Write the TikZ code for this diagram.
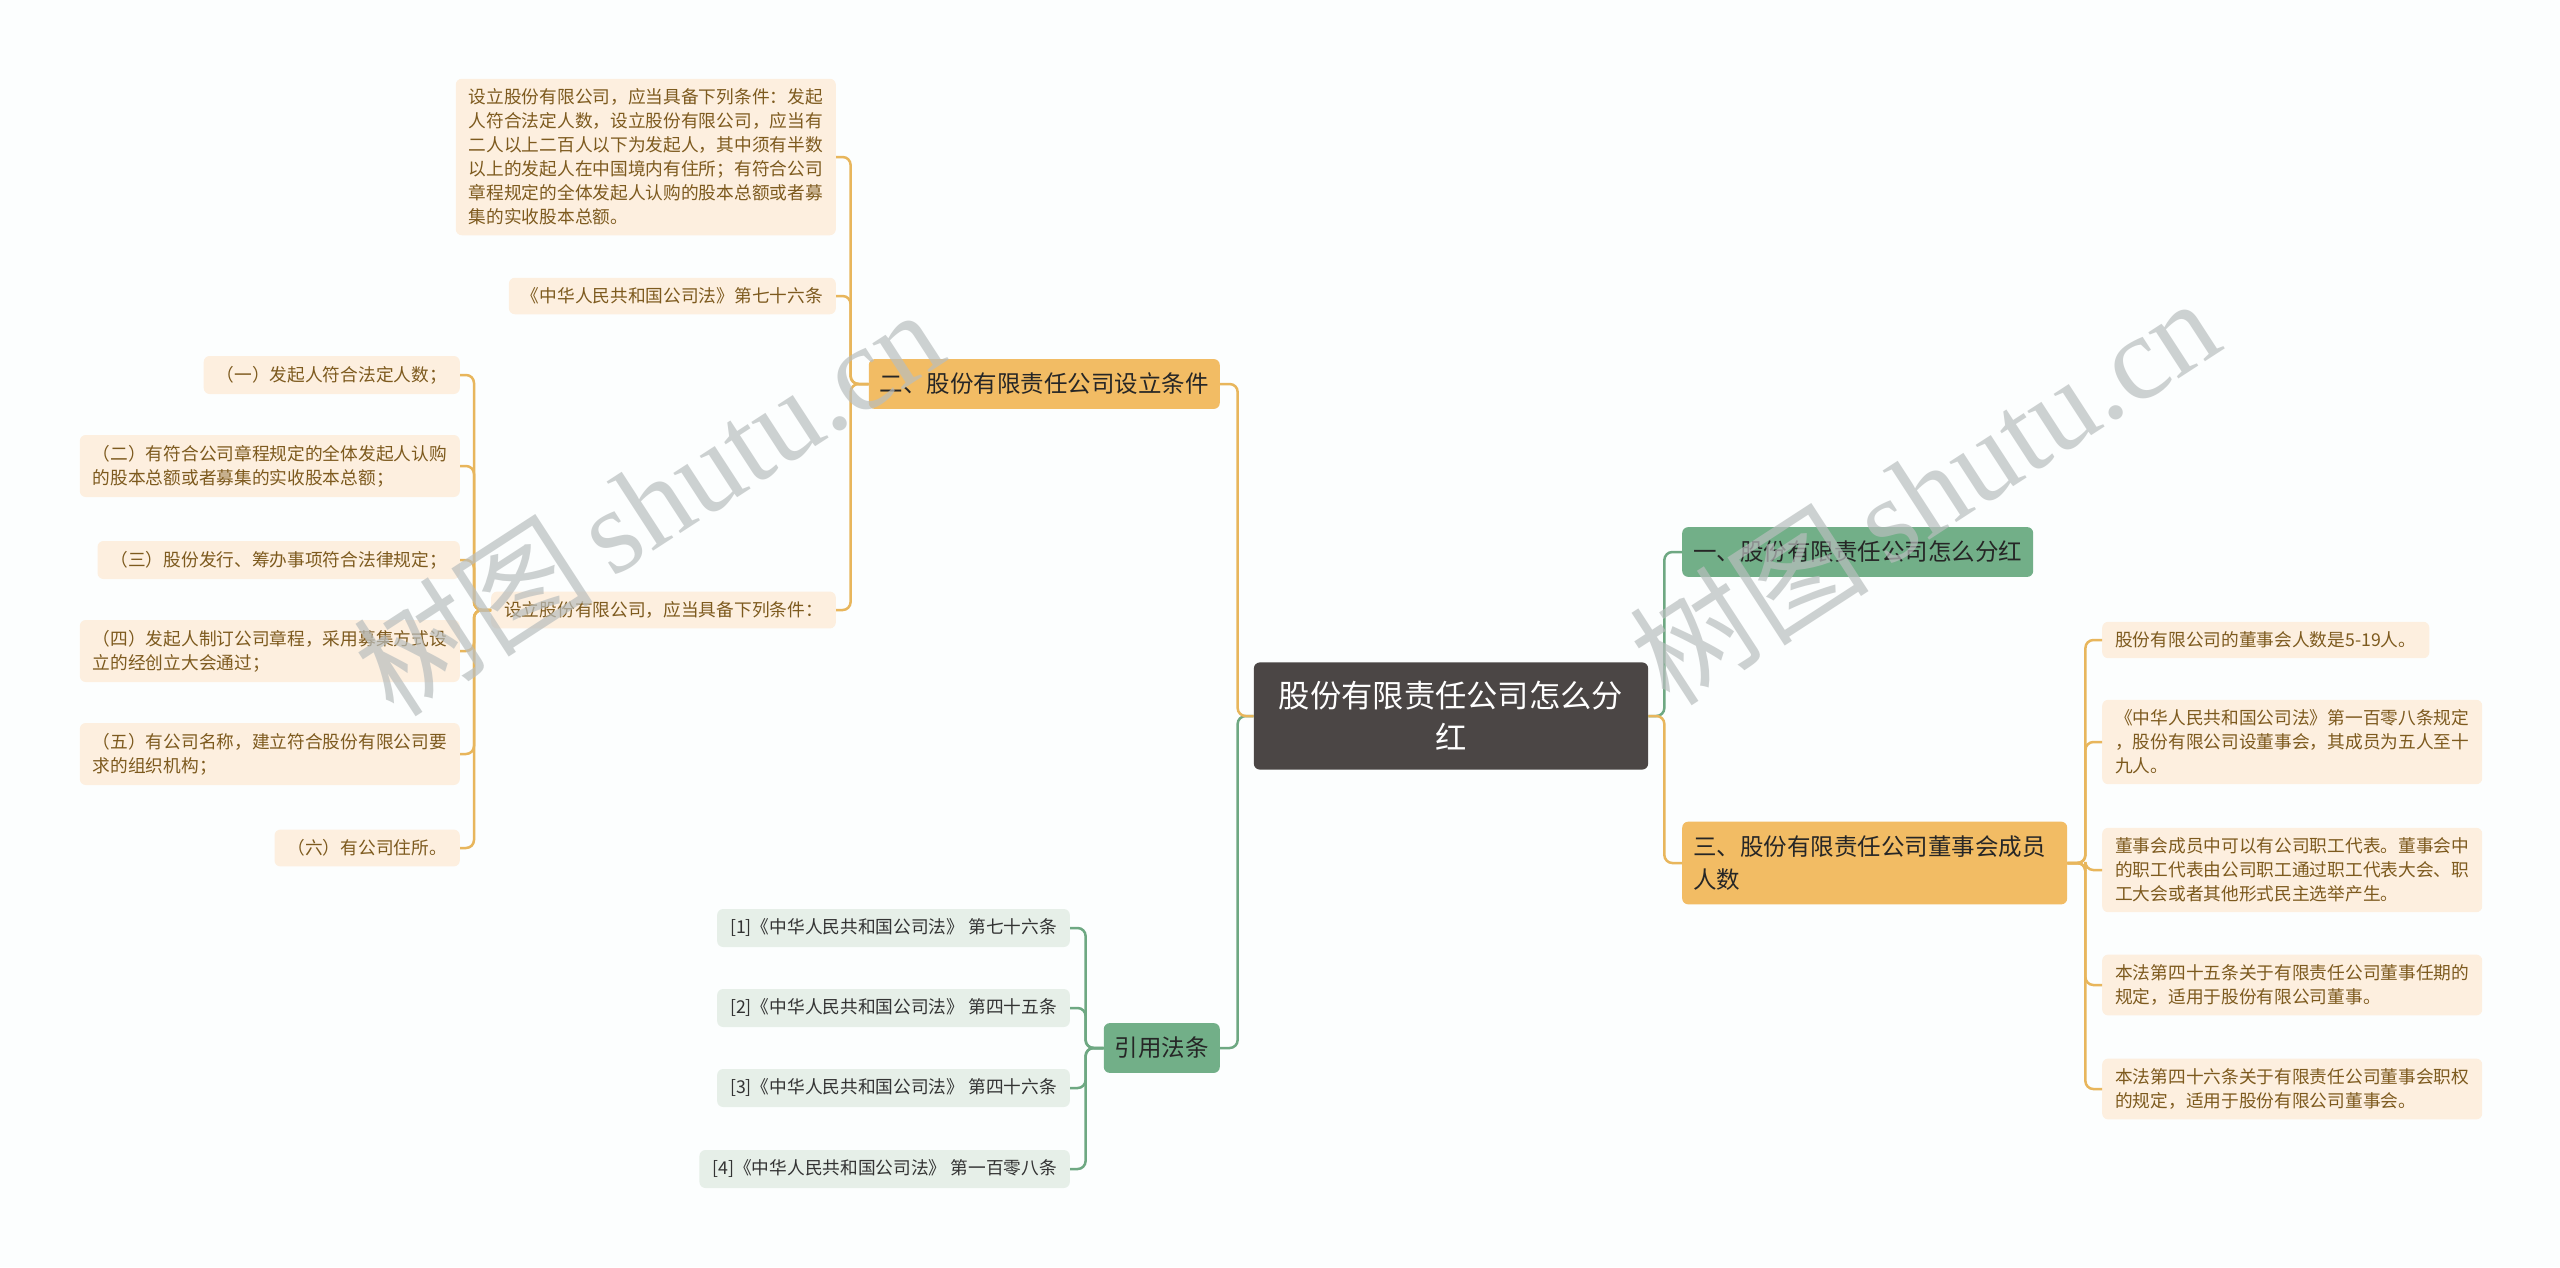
\documentclass[tikz,border=0pt]{standalone}
\usepackage{fontspec}
\setmainfont{Noto Sans CJK SC}
\newfontfamily\cjkfont{Noto Sans CJK SC}
\newfontfamily\wmfont{Liberation Serif}
\usetikzlibrary{positioning, calc}

\definecolor{bgcol}{HTML}{FCFEFE}
\definecolor{rootfill}{HTML}{4B4645}
\definecolor{brgfill}{HTML}{72AF88}
\definecolor{brofill}{HTML}{F2BC64}
\definecolor{lfofill}{HTML}{FDEFDF}
\definecolor{lfotext}{HTML}{7D5A1E}
\definecolor{lfgfill}{HTML}{E6EFE8}
\definecolor{lfgtext}{HTML}{333333}
\definecolor{lineo}{HTML}{E8B65C}
\definecolor{lineg}{HTML}{6EA882}
\definecolor{wmcol}{HTML}{B9BEBE}

\tikzset{
  box/.style={rounded corners=6pt, align=left},
  leafo/.style={box, fill=lfofill, text=lfotext, inner xsep=13pt, inner ysep=10pt,
    font=\fontsize{17.7}{24}\selectfont},
  leafg/.style={box, fill=lfgfill, text=lfgtext, inner xsep=13pt, inner ysep=10pt,
    font=\fontsize{17.7}{24}\selectfont},
  brancho/.style={box, fill=brofill, text=black!85, inner xsep=11pt, inner ysep=14pt,
    font=\fontsize{23.5}{33}\selectfont},
  branchg/.style={box, fill=brgfill, text=black!85, inner xsep=11pt, inner ysep=14pt,
    font=\fontsize{23.5}{33}\selectfont},
  rootbox/.style={box, align=center, fill=rootfill, text=white, inner xsep=25pt,
    inner ysep=19pt, font=\fontsize{31.3}{42}\selectfont},
  oline/.style={draw=lineo, line width=2.5pt, rounded corners=8pt},
  gline/.style={draw=lineg, line width=2.5pt, rounded corners=8pt},
  wmark/.style={text=wmcol, opacity=0.7, font=\fontsize{120}{120}\selectfont}
}

\begin{document}
\begin{tikzpicture}[x=1pt, y=-1pt]
  \useasboundingbox[fill=bgcol] (0,0) rectangle (2560,1267);

  % Root and main branches
  \node[rootbox] (root) at (1451,716) {股份有限责任公司怎么分\\红};
  \node[brancho, anchor=east] (b2) at (1220,384) {二、股份有限责任公司设立条件};
  \node[branchg, anchor=east] (law) at (1220,1048) {引用法条};
  \node[branchg, anchor=west] (b1) at (1682,552) {一、股份有限责任公司怎么分红};
  \node[brancho, anchor=west, text width=363pt] (b3) at (1682,863) {三、股份有限责任公司董事会成员\\人数};

  % Children of branch two
  \node[leafo, anchor=east] (full) at (836,157) {设立股份有限公司，应当具备下列条件：发起\\人符合法定人数，设立股份有限公司，应当有\\二人以上二百人以下为发起人，其中须有半数\\以上的发起人在中国境内有住所；有符合公司\\章程规定的全体发起人认购的股本总额或者募\\集的实收股本总额。};
  \node[leafo, anchor=east] (art76) at (836,296) {《中华人民共和国公司法》第七十六条};
  \node[leafo, anchor=east] (cond) at (836,610) {设立股份有限公司，应当具备下列条件：};

  % Listed conditions
  \foreach \n/\y/\txt in {%
    c1/375/{（一）发起人符合法定人数；},
    c2/466/{（二）有符合公司章程规定的全体发起人认购\\的股本总额或者募集的实收股本总额；},
    c3/560/{（三）股份发行、筹办事项符合法律规定；},
    c4/651/{（四）发起人制订公司章程，采用募集方式设\\立的经创立大会通过；},
    c5/754/{（五）有公司名称，建立符合股份有限公司要\\求的组织机构；},
    c6/848/{（六）有公司住所。}} {
    \node[leafo, anchor=east] (\n) at (460,\y) {\txt};
  }

  % Cited articles
  \foreach \n/\y/\txt in {%
    l1/928/{[1]《中华人民共和国公司法》 第七十六条},
    l2/1008/{[2]《中华人民共和国公司法》 第四十五条},
    l3/1088/{[3]《中华人民共和国公司法》 第四十六条},
    l4/1169/{[4]《中华人民共和国公司法》 第一百零八条}} {
    \node[leafg, anchor=east] (\n) at (1070,\y) {\txt};
  }

  % Board members
  \foreach \n/\y/\txt in {%
    r1/640/{股份有限公司的董事会人数是5-19人。},
    r2/742/{《中华人民共和国公司法》第一百零八条规定\\，股份有限公司设董事会，其成员为五人至十\\九人。},
    r3/870/{董事会成员中可以有公司职工代表。董事会中\\的职工代表由公司职工通过职工代表大会、职\\工大会或者其他形式民主选举产生。},
    r4/985/{本法第四十五条关于有限责任公司董事任期的\\规定，适用于股份有限公司董事。},
    r5/1089/{本法第四十六条关于有限责任公司董事会职权\\的规定，适用于股份有限公司董事会。}} {
    \node[leafo, anchor=west] (\n) at (2102,\y) {\txt};
  }

  % Connectors
  \draw[gline] (root.west) -- ++(-16,0) |- (law.east);
  \draw[oline] (root.west) -- ++(-16,0) |- (b2.east);
  \draw[gline] (root.east) -- ++(16,0) |- (b1.west);
  \draw[oline] (root.east) -- ++(16,0) |- (b3.west);
  \foreach \n in {full, art76, cond}
    \draw[oline] (b2.west) -- ++(-18,0) |- (\n.east);
  \foreach \n in {c1, c2, c3, c4, c5, c6}
    \draw[oline] (cond.west) -- ++(-17,0) |- (\n.east);
  \foreach \n in {l1, l2, l3, l4}
    \draw[gline] (law.west) -- ++(-18,0) |- (\n.east);
  \foreach \n in {r1, r2, r3, r4, r5}
    \draw[oline] (b3.east) -- ++(18,0) |- (\n.west);

  % Watermark
  \node[wmark, rotate=33] (wm1) at (648,501) {\cjkfont 树图\,\wmfont shutu.cn};
  \node[wmark, rotate=33] (wm2) at (1924,490) {\cjkfont 树图\,\wmfont shutu.cn};
\end{tikzpicture}
\end{document}
